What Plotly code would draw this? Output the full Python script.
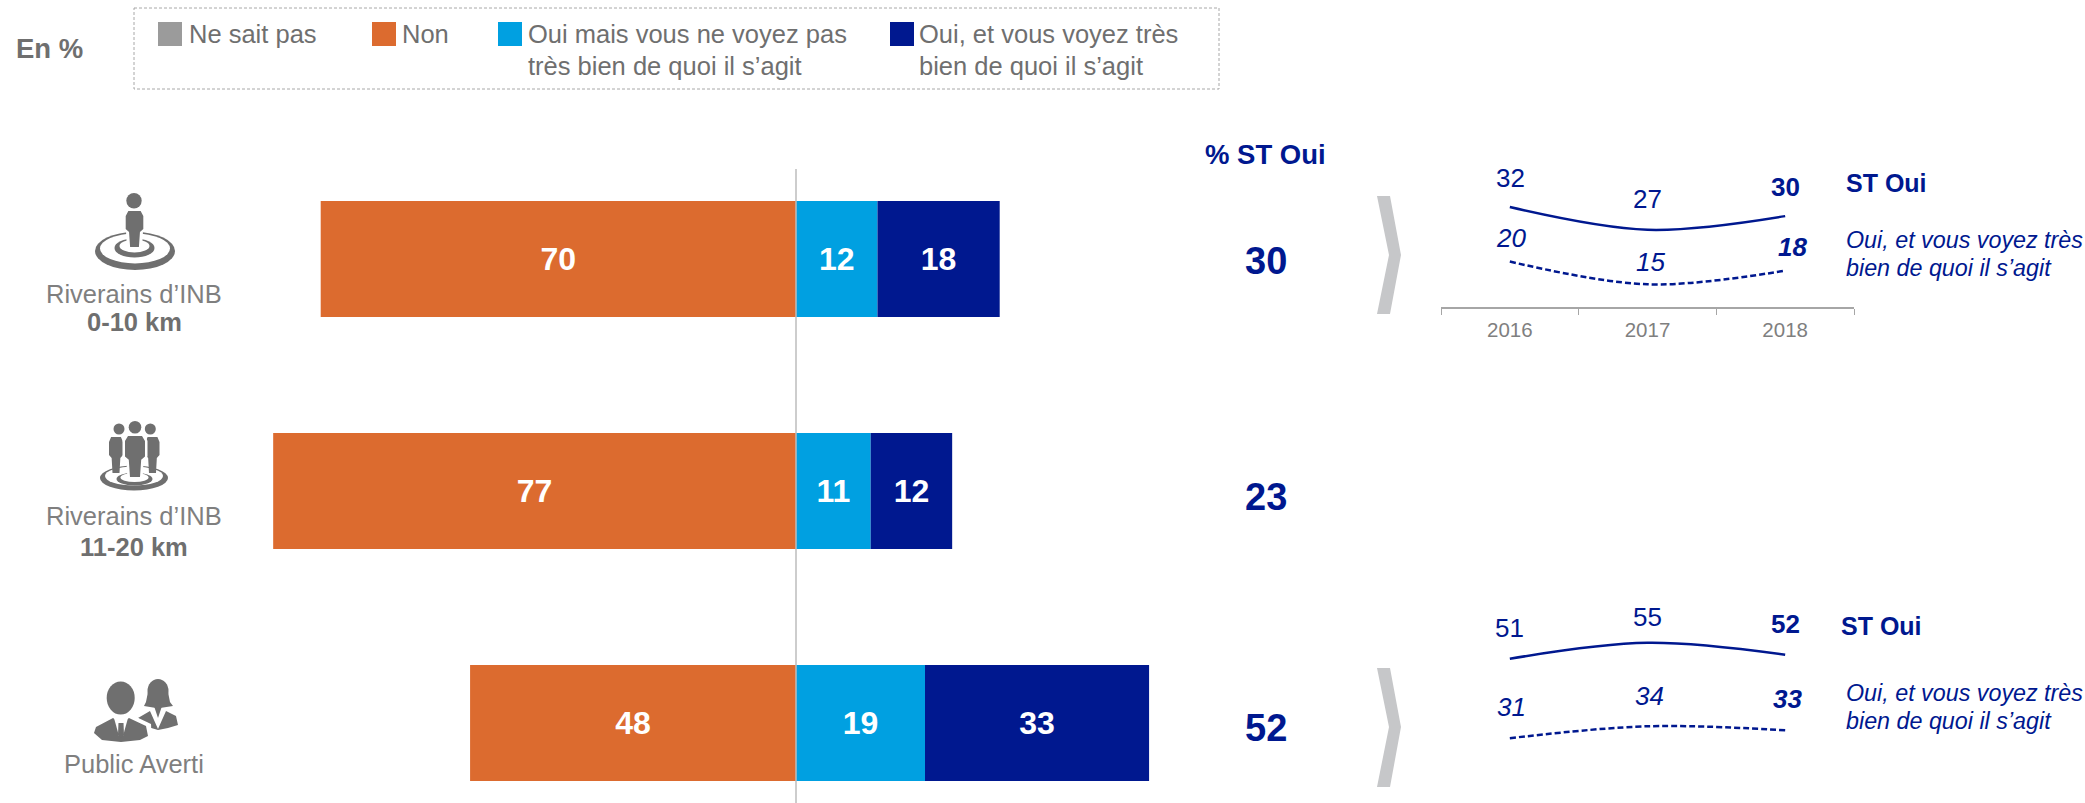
import plotly.graph_objects as go

W, H = 2085, 803
FONT = "Liberation Sans"
GREY = "#6F6F6F"
NAVY = "#00188F"
CYAN = "#00A0E1"
ORANGE = "#DC6B2F"
SWATCH_GREY = "#9B9B9B"

groups = ["Riverains d’INB 0-10 km", "Riverains d’INB 11-20 km", "Public Averti"]
non = [70, 77, 48]
oui_mais = [12, 11, 19]
oui_tres = [18, 12, 33]
st_oui = [30, 23, 52]

years = ["2016", "2017", "2018"]
st_oui_riv = [32, 27, 30]
tres_riv = [20, 15, 18]
st_oui_pub = [51, 55, 52]
tres_pub = [31, 34, 33]

TRES = "Oui, et vous voyez très<br>bien de quoi il s’agit"
MAIS = "Oui mais vous ne voyez pas<br>très bien de quoi il s’agit"


def px(x):
    return x / W


def py(y):
    return 1 - y / H


fig = go.Figure()

# main stacked bars
for name, vals, col, sign in [
    ("Non", non, ORANGE, -1),
    ("Oui mais vous ne voyez pas très bien de quoi il s’agit", oui_mais, CYAN, 1),
    ("Oui, et vous voyez très bien de quoi il s’agit", oui_tres, NAVY, 1),
]:
    fig.add_trace(go.Bar(
        y=groups, x=[sign * v for v in vals], orientation="h", name=name,
        marker=dict(color=col, line=dict(width=0)),
        text=[str(v) for v in vals], textposition="inside", insidetextanchor="middle",
        textangle=0, constraintext="none",
        textfont=dict(family=FONT, size=32, color="white", weight="bold"),
        showlegend=False, hoverinfo="skip",
    ))

# sparklines
for xa, ya, vals, dash in [
    ("x2", "y2", st_oui_riv, "solid"),
    ("x2", "y2", tres_riv, "6px,3px"),
    ("x3", "y3", st_oui_pub, "solid"),
    ("x3", "y3", tres_pub, "6px,3px"),
]:
    fig.add_trace(go.Scatter(
        x=years, y=vals, xaxis=xa, yaxis=ya, mode="lines",
        line=dict(color=NAVY, width=2.5, shape="spline", smoothing=1, dash=dash),
        showlegend=False, hoverinfo="skip",
    ))

spacing = 232
zero_x = 796
unit = 6.79


def ydom(top, bottom):
    return [py(bottom), py(top)]


fig.update_layout(
    width=W, height=H, margin=dict(l=0, r=0, t=0, b=0, pad=0),
    paper_bgcolor="white", plot_bgcolor="rgba(0,0,0,0)",
    barmode="relative", bargap=0.5, showlegend=False,
    font=dict(family=FONT, color=GREY),
    xaxis=dict(domain=[0, 1], range=[-zero_x / unit, (W - zero_x) / unit], visible=False, fixedrange=True),
    yaxis=dict(domain=[0, 1], type="category", categoryorder="array", categoryarray=groups,
               range=[(H - 259) / spacing, -259 / spacing], visible=False, fixedrange=True),
    xaxis2=dict(domain=[px(1441), px(1854)], anchor="y2", type="category", range=[-0.5, 2.5],
                tickson="boundaries", ticks="outside", ticklen=6, tickwidth=1, tickcolor="#A6A6A6",
                showline=True, linecolor="#A6A6A6", linewidth=2, showgrid=False, zeroline=False,
                tickfont=dict(family=FONT, size=20.5, color="#7F7F7F"), ticklabelstandoff=3),
    yaxis2=dict(domain=ydom(148, 307), anchor="x2", range=[10, 45], visible=False),
    xaxis3=dict(domain=[px(1441), px(1854)], anchor="y3", type="category", range=[-0.5, 2.5], visible=False),
    yaxis3=dict(domain=ydom(623, 762), anchor="x3", range=[25, 60], visible=False),
)

shapes = []
ann = []


def text(x, y, s, size=25.5, color=GREY, anchor="center", bold=False, italic=False):
    if italic:
        s = f"<i>{s}</i>"
    if bold:
        s = f"<b>{s}</b>"
    ann.append(dict(x=px(x), y=py(y), xref="paper", yref="paper", text=s, showarrow=False,
                    xanchor=anchor, yanchor="middle", align=anchor if anchor != "center" else "center",
                    font=dict(family=FONT, size=size, color=color), borderpad=0))


def rect(x0, y0, x1, y1, fill, line=None):
    shapes.append(dict(type="rect", xref="paper", yref="paper", x0=px(x0), x1=px(x1), y0=py(y0), y1=py(y1),
                       fillcolor=fill, line=line or dict(width=0)))


def ell(cx, cy, rx, ry, fill):
    shapes.append(dict(type="circle", xref="paper", yref="paper", x0=px(cx - rx), x1=px(cx + rx),
                       y0=py(cy + ry), y1=py(cy - ry), fillcolor=fill, line=dict(width=0)))


def poly(points, fill):
    d = "M" + " L".join(f"{px(a):.5f},{py(b):.5f}" for a, b in points) + " Z"
    shapes.append(dict(type="path", xref="paper", yref="paper", path=d, fillcolor=fill, line=dict(width=0)))


# legend box
rect(134, 8, 1219, 89, "rgba(0,0,0,0)", dict(color="#A8A8A8", width=1, dash="3px,2px"))
for x0, col in [(158, SWATCH_GREY), (372, ORANGE), (498, CYAN), (890, NAVY)]:
    rect(x0, 22, x0 + 24, 46, col)
text(15, 48, "En %", size=27.5, bold=True, anchor="left")
text(188, 34, "Ne sait pas", anchor="left")
text(401, 34, "Non", anchor="left")
a, b = MAIS.split("<br>")
text(527, 34, a, anchor="left")
text(527, 66, b, anchor="left")
a, b = TRES.split("<br>")
text(918, 34, a, anchor="left")
text(918, 66, b, anchor="left")

# zero line
shapes.append(dict(type="line", xref="x", yref="paper", x0=0, x1=0, y0=0, y1=py(169),
                   line=dict(color="#BDBDBD", width=1.5), layer="above"))

# header and totals
text(1265, 154, "% ST Oui", size=27.5, color=NAVY, bold=True)
for v, y in zip(st_oui, [261, 497, 728]):
    text(1266, y, str(v), size=38, color=NAVY, bold=True)

# left labels
text(134, 294, "Riverains d’INB", color="#7F7F7F")
text(134, 322, "0-10 km", bold=True)
text(134, 516, "Riverains d’INB", color="#7F7F7F")
text(134, 547, "11-20 km", bold=True)
text(134, 764, "Public Averti", color="#7F7F7F")

# chevrons
for t, m, bt in [(196, 255, 314), (668, 727, 787)]:
    poly([(1377, t), (1390, t), (1401, m), (1390, bt), (1377, bt), (1389, m)], "#C6C7C9")

# sparkline labels
S = 26
text(1510, 178, str(st_oui_riv[0]), size=S, color=NAVY)
text(1647, 199, str(st_oui_riv[1]), size=S, color=NAVY)
text(1785, 187, str(st_oui_riv[2]), size=S, color=NAVY, bold=True)
text(1511, 238, str(tres_riv[0]), size=S, color=NAVY, italic=True)
text(1650, 262, str(tres_riv[1]), size=S, color=NAVY, italic=True)
text(1792, 247, str(tres_riv[2]), size=S, color=NAVY, italic=True, bold=True)
text(1845, 183, "ST Oui", size=25, color=NAVY, bold=True, anchor="left")
a, b = TRES.split("<br>")
text(1845, 240, a, size=23.3, color=NAVY, italic=True, anchor="left")
text(1845, 268, b, size=23.3, color=NAVY, italic=True, anchor="left")

text(1509, 628, str(st_oui_pub[0]), size=S, color=NAVY)
text(1647, 617, str(st_oui_pub[1]), size=S, color=NAVY)
text(1785, 624, str(st_oui_pub[2]), size=S, color=NAVY, bold=True)
text(1511, 707, str(tres_pub[0]), size=S, color=NAVY, italic=True)
text(1649, 696, str(tres_pub[1]), size=S, color=NAVY, italic=True)
text(1787, 699, str(tres_pub[2]), size=S, color=NAVY, italic=True, bold=True)
text(1840, 626, "ST Oui", size=25, color=NAVY, bold=True, anchor="left")
text(1845, 693, a, size=23.3, color=NAVY, italic=True, anchor="left")
text(1845, 721, b, size=23.3, color=NAVY, italic=True, anchor="left")

# icons
IC = "#6F6F6F"


def figure_body(cx, top, bottom, hw, fill=IC, grow=0):
    h = bottom - top
    g = grow
    poly([(cx - hw * .7 - g, top - g), (cx + hw * .7 + g, top - g), (cx + hw + g, top + 5),
          (cx + hw + g, top + h * .5), (cx + hw * .62 + g, top + h * .58), (cx + hw * .5 + g, bottom + g),
          (cx - hw * .5 - g, bottom + g), (cx - hw * .62 - g, top + h * .58),
          (cx - hw - g, top + h * .5), (cx - hw - g, top + 5)], fill)


# single person on target
ell(135, 251, 40, 19, IC)
ell(135, 248.5, 35, 15, "white")
ell(134.5, 248, 20, 9.5, IC)
ell(134.5, 246, 15, 6.5, "white")
figure_body(134.5, 211, 247, 8.8, "white", 3)
ell(134, 200.7, 7.7, 7.7, IC)
figure_body(134.5, 211, 247, 8.8)

# group on target
ell(134, 478, 34, 12.5, IC)
ell(134, 476, 29, 9.5, "white")
ell(134.5, 479, 18, 6.5, IC)
ell(134.5, 477.5, 14, 4.5, "white")
ell(119, 429, 5.5, 5.5, IC)
ell(150.3, 429, 5.5, 5.5, IC)
figure_body(116, 437, 473, 7)
figure_body(152.5, 437, 473, 7)
figure_body(135, 436, 477, 10, "white", 2.5)
ell(135, 427.3, 6.3, 6.3, IC)
figure_body(135, 436, 477, 10)

# woman and man
ell(158, 691, 10.5, 12, IC)
poly([(148, 692), (146, 702), (144, 706), (156, 708), (160, 708), (173, 706), (170, 702), (168, 692)], IC)
poly([(138, 718), (150, 711), (158, 729), (166, 711), (176, 716), (178, 725), (168, 728), (158, 730), (148, 727)], IC)
poly([(151, 708), (165, 708), (158, 726)], "white")
poly([(154, 706), (162, 706), (158, 718)], IC)
poly([(90, 735), (92, 724), (112, 714), (130, 714), (151, 724), (152, 743), (121, 746)], "white")
ell(120.7, 698, 14, 16.5, IC)
poly([(94, 733), (96, 727), (113, 718), (121, 724), (129, 718), (146, 726), (148, 736), (140, 740), (121, 742), (102, 740)], IC)
poly([(114, 718), (128, 718), (123, 736), (119, 736)], "white")
poly([(118.5, 723), (123.5, 723), (124, 735), (121, 738), (118, 735)], IC)

fig.update_layout(shapes=shapes, annotations=ann)
fig.write_html("out.html", config={"displayModeBar": False},
               post_script="document.body.style.margin='0';document.body.style.overflow='hidden';")
